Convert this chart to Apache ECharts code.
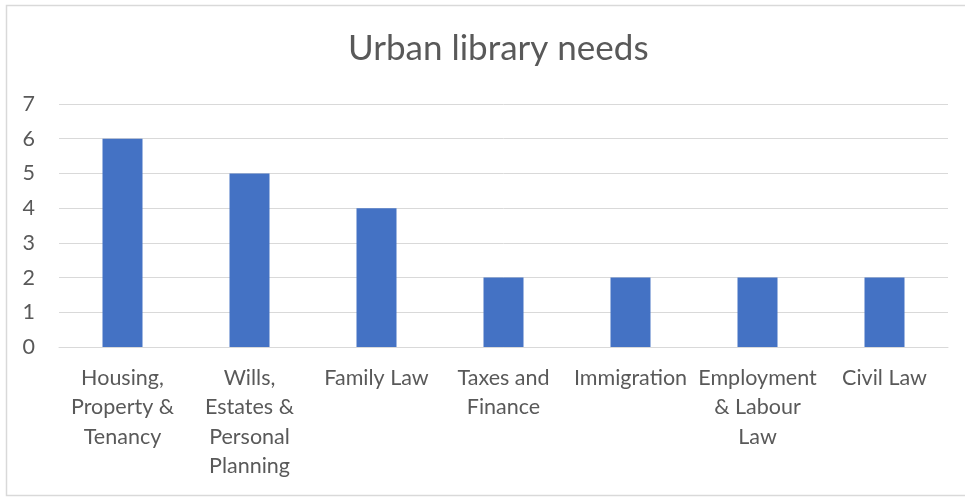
<!DOCTYPE html>
<html>
<head>
<meta charset="utf-8">
<script src="https://cdn.jsdelivr.net/npm/echarts@6/dist/echarts.min.js"></script>
<style>
  html, body { margin: 0; padding: 0; background: #fff; }
  #chart { width: 965px; height: 497px; }
</style>
</head>
<body>
<div id="chart"></div>
<script>
// Legal topics requested at urban libraries
const categories = [
  'Housing,\nProperty &\nTenancy',
  'Wills,\nEstates &\nPersonal\nPlanning',
  'Family Law',
  'Taxes and\nFinance',
  'Immigration',
  'Employment\n& Labour\nLaw',
  'Civil Law'
];
const needs = [6, 5, 4, 2, 2, 2, 2];
const yTicks = [0, 1, 2, 3, 4, 5, 6, 7];

const textColor = '#595959';
const fontFamily = 'Lato, "Open Sans", sans-serif';

const chart = echarts.init(document.getElementById('chart'), null, { renderer: 'canvas' });
chart.setOption({
  animation: false,
  backgroundColor: '#ffffff',
  title: {
    text: 'Urban library needs',
    left: 343,
    top: 26,
    textStyle: { color: textColor, fontSize: 35, fontWeight: 'normal', fontFamily: fontFamily }
  },
  graphic: [{
    type: 'rect',
    shape: { x: 6.5, y: 5.5, width: 980, height: 490 },
    style: { fill: 'none', stroke: '#d9d9d9', lineWidth: 1.5 },
    silent: true
  }],
  grid: { left: 59, right: 17, top: 104, bottom: 150 },
  xAxis: {
    type: 'category',
    data: categories,
    axisTick: { show: false },
    axisLine: { show: true, lineStyle: { color: '#d9d9d9', width: 1 } },
    axisLabel: {
      color: textColor,
      fontSize: 21.5,
      fontFamily: fontFamily,
      lineHeight: 29.5,
      margin: 16,
      interval: 0,
      align: 'center',
      verticalAlign: 'top'
    }
  },
  yAxis: {
    type: 'value',
    min: yTicks[0],
    max: yTicks[yTicks.length - 1],
    interval: 1,
    axisLine: { show: false },
    axisTick: { show: false },
    splitLine: { lineStyle: { color: '#d9d9d9', width: 1 } },
    axisLabel: { color: textColor, fontSize: 21.5, fontFamily: fontFamily, margin: 24 }
  },
  series: [{
    type: 'bar',
    data: needs,
    barWidth: 40,
    itemStyle: { color: '#4472c4' }
  }]
});
</script>
</body>
</html>
